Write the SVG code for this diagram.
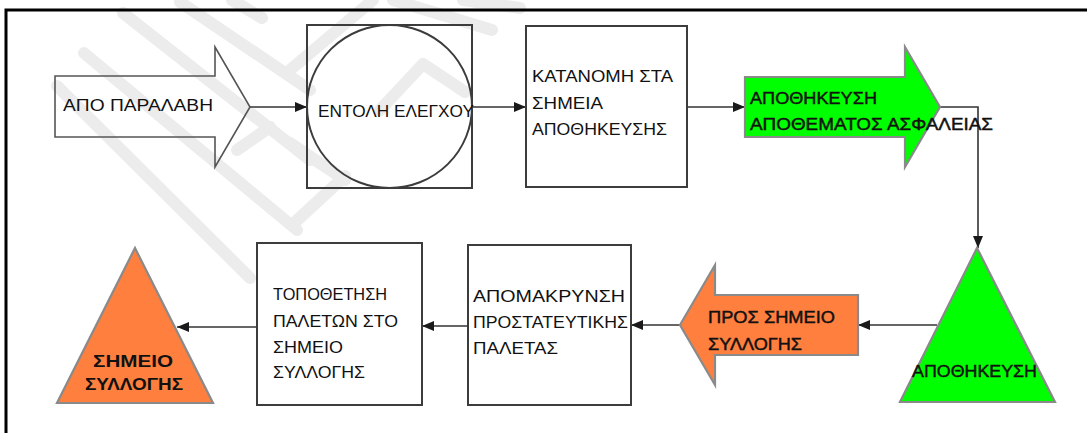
<svg xmlns="http://www.w3.org/2000/svg" width="1087" height="433" viewBox="0 0 1087 433">
  <defs>
    <marker id="arrow" viewBox="0 0 12 10" markerWidth="12" markerHeight="10" refX="12" refY="5" orient="auto" markerUnits="userSpaceOnUse">
      <path d="M0,0 L12,5 L0,10 z" fill="#1a1a1a"/>
    </marker>
    <style>
      .frame { stroke: #000; stroke-width: 3; fill: none; }
      .mark { stroke: #ececec; stroke-width: 12; stroke-linecap: round; stroke-linejoin: round; fill: none; }
      .box { fill: none; stroke: #3c3c3c; stroke-width: 2; }
      .plain { fill: none; stroke: #555; stroke-width: 1.6; }
      .green { fill: #00ff00; stroke: #8a8a8a; stroke-width: 2.2; }
      .orange { fill: #ff7f3f; stroke: #8a8a8a; stroke-width: 2.2; }
      .conn { stroke: #333; stroke-width: 1.6; fill: none; }
      text { font-family: "Liberation Sans", Arial, sans-serif; font-size: 17px; fill: #111; }
      .semi { stroke: #111; stroke-width: 0.45; }
      .b { font-weight: bold; }
    </style>
  </defs>

  <rect width="1087" height="433" fill="#fff"/>

  <!-- faint diagonal background strokes -->
  <g id="background-strokes">
    <path class="mark" d="M84,53 L297,230"/>
    <path class="mark" d="M57,86 L250,278"/>
    <path class="mark" d="M123,13 L310,160"/>
    <path class="mark" d="M180,2 L310,90"/>
    <path class="mark" d="M237,150 L270,127"/>
    <path class="mark" d="M373,0 L290,70"/>
    <path class="mark" d="M380,110 L423,64 L465,92"/>
    <path class="mark" d="M290,143 L345,180"/>
    <path class="mark" d="M345,176 L292,225"/>
    <path class="mark" d="M393,0 L492,30"/>
    <path class="mark" d="M463,0 L520,8"/>
    <path class="mark" d="M232,0 L262,18"/>
  </g>

  <!-- page frame (top and left edges) -->
  <path class="frame" d="M6,433 L6,10 L1087,10"/>

  <!-- connectors -->
  <g id="connectors">
    <path class="conn" d="M250,107 L307,107" marker-end="url(#arrow)"/>
    <path class="conn" d="M472,107 L526,107" marker-end="url(#arrow)"/>
    <path class="conn" d="M687,107 L745,107" marker-end="url(#arrow)"/>
    <path class="conn" d="M940,107 L978,107 L978,248" marker-end="url(#arrow)"/>
    <path class="conn" d="M937,325 L858,325" marker-end="url(#arrow)"/>
    <path class="conn" d="M680,325 L631,325" marker-end="url(#arrow)"/>
    <path class="conn" d="M468,326 L422,326" marker-end="url(#arrow)"/>
    <path class="conn" d="M257,327 L177,327" marker-end="url(#arrow)"/>
  </g>

  <g id="apo-paralavi">
    <path class="plain" d="M55,76 L215,76 L215,47 L250,107 L215,167 L215,137 L55,137 z"/>
    <text x="63" y="111" textLength="150" lengthAdjust="spacingAndGlyphs">ΑΠΟ ΠΑΡΑΛΑΒΗ</text>
  </g>

  <g id="entoli-elegxou">
    <rect class="box" x="307" y="25" width="165" height="163"/>
    <ellipse class="box" cx="389.5" cy="106.5" rx="82.5" ry="81.5"/>
    <text x="318" y="117" textLength="156" lengthAdjust="spacingAndGlyphs">ΕΝΤΟΛΗ ΕΛΕΓΧΟΥ</text>
  </g>

  <g id="katanomi">
    <rect class="box" x="526" y="26" width="161" height="161"/>
    <text x="532" y="82" textLength="141" lengthAdjust="spacingAndGlyphs">ΚΑΤΑΝΟΜΗ ΣΤΑ</text>
    <text x="532" y="109" textLength="71" lengthAdjust="spacingAndGlyphs">ΣΗΜΕΙΑ</text>
    <text x="532" y="135" textLength="135" lengthAdjust="spacingAndGlyphs">ΑΠΟΘΗΚΕΥΣΗΣ</text>
  </g>

  <g id="apothikeusi-apothematos">
    <path class="green" d="M745,77 L905,77 L905,47 L940,107 L905,167 L905,137 L745,137 z"/>
    <text class="semi" x="750" y="104" textLength="127" lengthAdjust="spacingAndGlyphs">ΑΠΟΘΗΚΕΥΣΗ</text>
    <text class="semi" x="750" y="130" textLength="243" lengthAdjust="spacingAndGlyphs">ΑΠΟΘΕΜΑΤΟΣ ΑΣΦΑΛΕΙΑΣ</text>
  </g>

  <g id="apothikeusi">
    <path class="green" d="M977,248 L1055,402 L900,402 z"/>
    <text class="semi" x="912" y="377" textLength="125" lengthAdjust="spacingAndGlyphs">ΑΠΟΘΗΚΕΥΣΗ</text>
  </g>

  <g id="pros-simeio">
    <path class="orange" d="M858,295 L715,295 L715,265 L680,325 L715,385 L715,355 L858,355 z"/>
    <text class="semi" x="708" y="323" textLength="127" lengthAdjust="spacingAndGlyphs">ΠΡΟΣ ΣΗΜΕΙΟ</text>
    <text class="semi" x="708" y="350" textLength="94" lengthAdjust="spacingAndGlyphs">ΣΥΛΛΟΓΗΣ</text>
  </g>

  <g id="apomakrynsi">
    <rect class="box" x="468" y="245" width="163" height="160"/>
    <text x="473" y="302" textLength="152" lengthAdjust="spacingAndGlyphs">ΑΠΟΜΑΚΡΥΝΣΗ</text>
    <text x="473" y="328" textLength="155" lengthAdjust="spacingAndGlyphs">ΠΡΟΣΤΑΤΕΥΤΙΚΗΣ</text>
    <text x="473" y="354" textLength="85" lengthAdjust="spacingAndGlyphs">ΠΑΛΕΤΑΣ</text>
  </g>

  <g id="topothetisi">
    <rect class="box" x="257" y="243" width="165" height="162"/>
    <text x="273" y="300" textLength="114" lengthAdjust="spacingAndGlyphs">ΤΟΠΟΘΕΤΗΣΗ</text>
    <text x="273" y="327" textLength="125" lengthAdjust="spacingAndGlyphs">ΠΑΛΕΤΩΝ ΣΤΟ</text>
    <text x="273" y="353" textLength="70" lengthAdjust="spacingAndGlyphs">ΣΗΜΕΙΟ</text>
    <text x="273" y="378" textLength="92" lengthAdjust="spacingAndGlyphs">ΣΥΛΛΟΓΗΣ</text>
  </g>

  <g id="simeio-syllogis">
    <path class="orange" d="M135,248 L213,403 L57,403 z"/>
    <text class="b" x="93" y="367" textLength="80" lengthAdjust="spacingAndGlyphs">ΣΗΜΕΙΟ</text>
    <text class="b" x="85" y="390" textLength="98" lengthAdjust="spacingAndGlyphs">ΣΥΛΛΟΓΗΣ</text>
  </g>
</svg>
